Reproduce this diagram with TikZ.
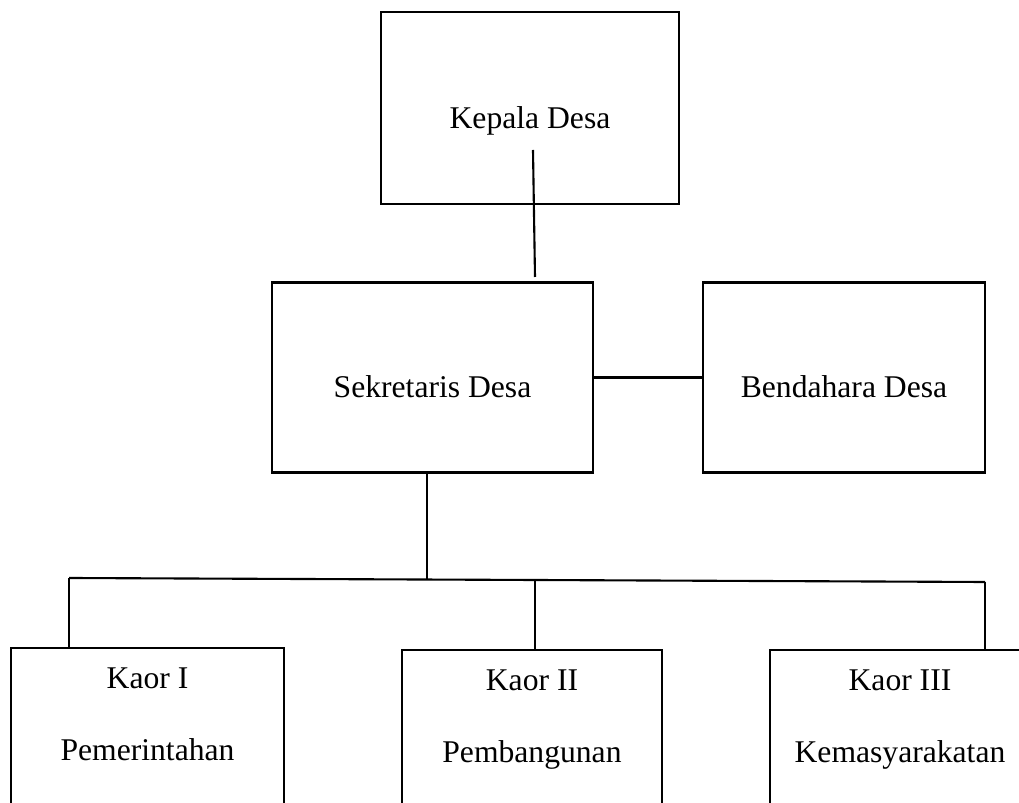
\documentclass[tikz,border=0pt]{standalone}
\usepackage{fontspec}
\setmainfont{Liberation Serif}
\usetikzlibrary{positioning}

\begin{document}
\begin{tikzpicture}[x=0.02cm, y=-0.02cm, line width=1.2pt,
        box/.style={draw, font=\fontsize{18}{22}\selectfont, text height=27pt, text depth=4pt, minimum height=3.8cm},
        kaor/.style={draw, anchor=north, align=center, inner ysep=0pt, minimum width=5.2cm,
            font=\fontsize{18}{41}\selectfont,
            execute at end node={\rule[-3cm]{0pt}{3cm}}}]
        \useasboundingbox (0,0) rectangle (1019,803);
        \clip (0,0) rectangle (1019,803);
        \node[box, minimum width=5.96cm, minimum height=3.84cm] (KD) at (530,108) {Kepala Desa};
        \node[box, minimum width=6.42cm] (SD) at (432.5,377.5) {Sekretaris Desa};
        \node[box, minimum width=5.64cm] (BD) at (844,377.5) {Bendahara Desa};
        \node[kaor, minimum width=5.46cm] (K1) at (147.5,647) {\rule{0pt}{23.2pt}Kaor I\\Pemerintahan};
        \node[kaor] (K2) at (532,649) {\rule{0pt}{23.2pt}Kaor II\\Pembangunan};
        \node[kaor] (K3) at (900,649) {\rule{0pt}{23.2pt}Kaor III\\Kemasyarakatan};
        \coordinate (kd-in) at (533,150);
        \coordinate (kd-out) at (535,277);
        \coordinate (hub) at (427,579);
        \coordinate (b1) at (69,578);
        \coordinate (b2) at (535,580);
        \coordinate (b3) at (985,582);
        \draw (kd-in) -- (kd-out);
        \draw (SD.east) -- (BD.west);
        \draw (SD.south -| hub) -- (hub);
        \draw (b1) -- (b2) -- (b3);
        \draw (b1) -- (b1 |- K1.north);
        \draw (b2) -- (b2 |- K2.north);
        \draw (b3) -- (b3 |- K3.north);
    \end{tikzpicture}
\end{document}
